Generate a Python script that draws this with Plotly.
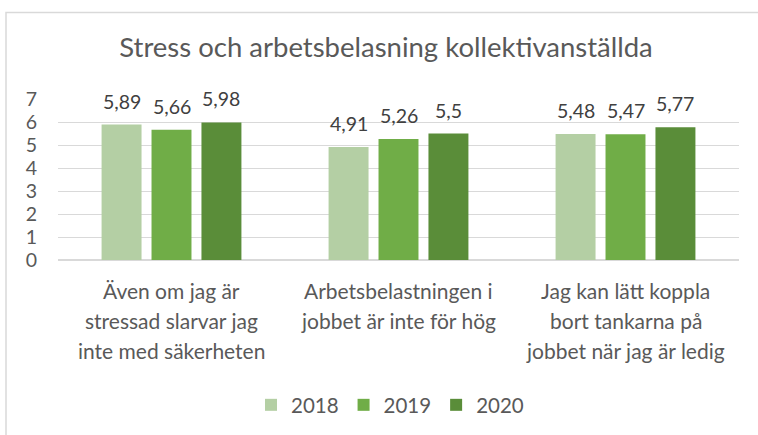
import plotly.graph_objects as go

categories = ["Även om jag är stressad slarvar jag inte med säkerheten",
              "Arbetsbelastningen i jobbet är inte för hög",
              "Jag kan lätt koppla bort tankarna på jobbet när jag är ledig"]
category_lines = [["Även om jag är", "stressad slarvar jag", "inte med säkerheten"],
                  ["Arbetsbelastningen i", "jobbet är inte för hög"],
                  ["Jag kan lätt koppla", "bort tankarna på", "jobbet när jag är ledig"]]
years = ["2018", "2019", "2020"]
values_2018 = [5.89, 4.91, 5.48]
values_2019 = [5.66, 5.26, 5.47]
values_2020 = [5.98, 5.5, 5.77]
colors = ["#b4cfa4", "#70ad47", "#5a8d39"]
y_ticks = [0, 1, 2, 3, 4, 5, 6, 7]

FONT = "Lato"
W, H = 758, 435
ml, mr, mt, mb = 58, 19, 99, 174
pw, ph = W - ml - mr, H - mt - mb
BARGAP = 0.34
GROUPGAP = 0.2

def fmt(v):
    s = ("%.2f" % v).rstrip("0").rstrip(".")
    return s.replace(".", ",")

fig = go.Figure()
series = [values_2018, values_2019, values_2020]
for yr, vals, c in zip(years, series, colors):
    fig.add_trace(go.Bar(
        x=categories, y=vals, name=yr, marker=dict(color=c, line=dict(width=0)),
    ))

annotations = []
# data labels
slot = (pw / len(categories)) * (1 - BARGAP) / len(years)
for si, vals in enumerate(series):
    for cat, v in zip(categories, vals):
        annotations.append(dict(x=cat, y=v, xref="x", yref="y", text=fmt(v), showarrow=False,
                                xshift=(si - 1) * slot, yshift=10, yanchor="bottom",
                                font=dict(family=FONT, size=19.5, color="#404040")))
# category labels
for cat, lines in zip(categories, category_lines):
    for i, ln in enumerate(lines):
        annotations.append(dict(x=cat, y=0, xref="x", yref="y", text=ln, showarrow=False,
                                yshift=-(30 + 30 * i), yanchor="middle",
                                font=dict(family=FONT, size=21, color="#595959")))

fig.update_layout(
    width=W, height=H,
    margin=dict(l=ml, r=mr, t=mt, b=mb),
    paper_bgcolor="white", plot_bgcolor="white",
    barmode="group", bargap=BARGAP, bargroupgap=GROUPGAP,
    title=dict(text="Stress och arbetsbelasning kollektivanställda", x=(386 - ml) / pw, xanchor="center",
               xref="paper", y=1 - 47 / H, yanchor="middle",
               font=dict(family=FONT, size=27.5, color="#595959")),
    xaxis=dict(showticklabels=False, showgrid=False, showline=False, zeroline=False),
    yaxis=dict(range=[0, 7], tickvals=y_ticks, showgrid=True, gridcolor="#d9d9d9", gridwidth=1,
               zeroline=True, zerolinecolor="#d9d9d9", showline=False, ticks="",
               ticklabelstandoff=20,
               tickfont=dict(family=FONT, size=19.5, color="#595959")),
    legend=dict(orientation="h", x=(390 - ml) / pw, xanchor="center", y=-(405 - (mt + ph)) / ph,
                yanchor="middle",
                font=dict(family=FONT, size=20.5, color="#595959"),
                traceorder="normal"),
    annotations=annotations,
    shapes=[dict(type="rect", xref="paper", yref="paper",
                 x0=(6 - ml) / pw, x1=(770 - ml) / pw,
                 y0=1 + (mt - 445) / ph, y1=1 + (mt - 12) / ph,
                 line=dict(color="#d9d9d9", width=1.5), layer="below")],
)

fig.write_html("out.html", config={"displayModeBar": False},
               post_script="document.body.style.margin='0';")
